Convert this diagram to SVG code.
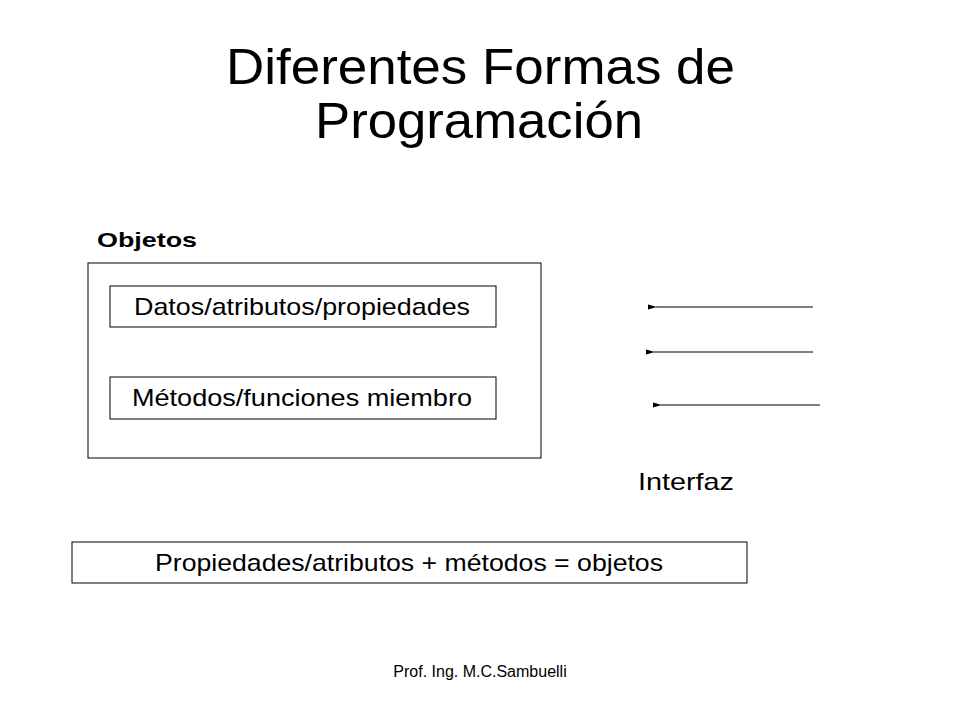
<svg xmlns="http://www.w3.org/2000/svg" width="960" height="720" viewBox="0 0 960 720">
<defs>
<style>
text{font-family:"Liberation Sans",Arial,sans-serif;fill:#000}
.box{fill:#fff;stroke:#000;stroke-width:1}
.t{font-size:24px;text-anchor:middle}
.ln{stroke:#000;stroke-width:1;fill:none}
</style>
<marker id="ah" markerWidth="10" markerHeight="6" refX="1" refY="3" orient="auto" markerUnits="userSpaceOnUse">
<path d="M0,3 L9,0.5 L9,5.5 Z" fill="#000"/>
</marker>
</defs>
<rect width="960" height="720" fill="#fff"/>
<text x="226" y="84" font-size="50" textLength="509" lengthAdjust="spacingAndGlyphs">Diferentes Formas de</text>
<text x="315" y="138" font-size="50" textLength="328" lengthAdjust="spacingAndGlyphs">Programación</text>
<text x="97" y="247" font-size="21" font-weight="bold" textLength="100" lengthAdjust="spacingAndGlyphs">Objetos</text>
<g id="objetos"><rect class="box" x="88" y="263" width="453" height="195"/></g>
<g id="datos"><rect class="box" x="110" y="286" width="386" height="41"/><text class="t" x="302" y="315" textLength="336" lengthAdjust="spacingAndGlyphs">Datos/atributos/propiedades</text></g>
<g id="metodos"><rect class="box" x="110" y="377" width="386" height="42"/><text class="t" x="302" y="406" textLength="340" lengthAdjust="spacingAndGlyphs">Métodos/funciones miembro</text></g>
<g id="connectors">
<line class="ln" x1="813" y1="307" x2="656" y2="307" marker-end="url(#ah)"/>
<line class="ln" x1="813" y1="352" x2="654" y2="352" marker-end="url(#ah)"/>
<line class="ln" x1="820" y1="405" x2="661" y2="405" marker-end="url(#ah)"/>
</g>
<text x="638" y="490" font-size="24" textLength="96" lengthAdjust="spacingAndGlyphs">Interfaz</text>
<g id="formula"><rect class="box" x="72" y="542" width="675" height="41"/><text class="t" x="409" y="571" textLength="508" lengthAdjust="spacingAndGlyphs">Propiedades/atributos + métodos = objetos</text></g>
<text x="480" y="677" font-size="16" text-anchor="middle">Prof. Ing. M.C.Sambuelli</text>
</svg>
